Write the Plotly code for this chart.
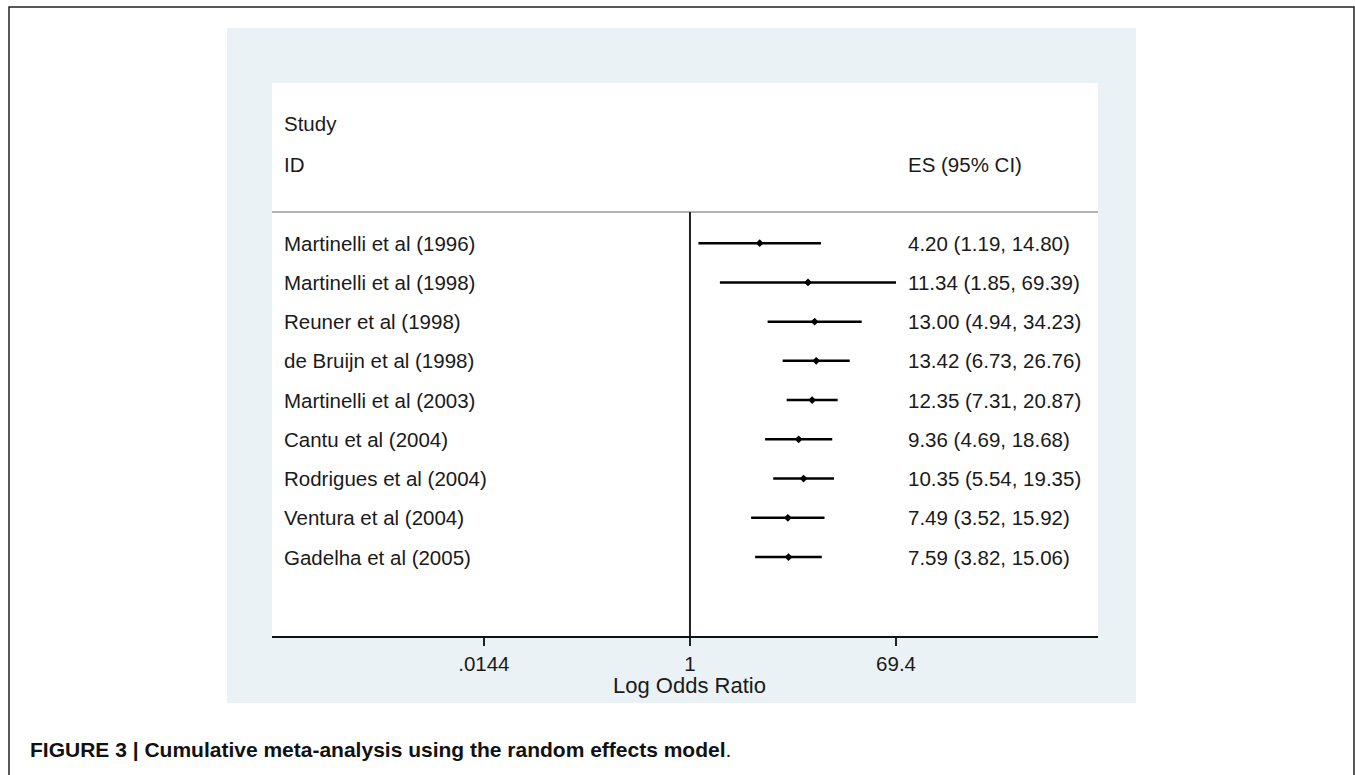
import plotly.graph_objects as go

W, H = 1355, 775

studies = ["Martinelli et al (1996)", "Martinelli et al (1998)", "Reuner et al (1998)",
           "de Bruijn et al (1998)", "Martinelli et al (2003)", "Cantu et al (2004)",
           "Rodrigues et al (2004)", "Ventura et al (2004)", "Gadelha et al (2005)"]
es = [4.20, 11.34, 13.00, 13.42, 12.35, 9.36, 10.35, 7.49, 7.59]
ci_low = [1.19, 1.85, 4.94, 6.73, 7.31, 4.69, 5.54, 3.52, 3.82]
ci_high = [14.80, 69.39, 34.23, 26.76, 20.87, 18.68, 19.35, 15.92, 15.06]

tick_vals = [0.0144, 1, 69.4]
tick_text = [".0144", "1", "69.4"]

FONT = "Liberation Sans, Arial, Helvetica, sans-serif"
TXT = "#1a1a1a"
FS = 20.5

def px(x):
    return x / W

def py(y):
    return (H - y) / H

rows = list(range(len(studies)))
es_labels = [f"{e:.2f} ({l:.2f}, {h:.2f})" for e, l, h in zip(es, ci_low, ci_high)]

fig = go.Figure()
fig.add_trace(go.Scatter(
    x=es, y=rows, mode="markers",
    marker=dict(symbol="diamond", size=6, color="#000000"),
    error_x=dict(type="data", symmetric=False,
                 array=[h - e for e, h in zip(es, ci_high)],
                 arrayminus=[e - l for e, l in zip(es, ci_low)],
                 width=0, thickness=2.5, color="#000000"),
    showlegend=False, hoverinfo="skip", cliponaxis=False,
))

y_top, y_bot = -4.08, 10.01
header_line_y = -0.79

shapes = [
    # outer border
    dict(type="rect", xref="paper", yref="paper", x0=px(9), x1=px(1354), y0=py(790), y1=py(7),
         line=dict(color="#222222", width=1.5), fillcolor="rgba(0,0,0,0)", layer="below"),
    # graph region (light blue)
    dict(type="rect", xref="paper", yref="paper", x0=px(227), x1=px(1136), y0=py(703), y1=py(28),
         line=dict(width=0), fillcolor="#EAF2F5", layer="below"),
    # plot region (white)
    dict(type="rect", xref="paper", yref="paper", x0=px(272), x1=px(1098), y0=py(636), y1=py(83),
         line=dict(width=0), fillcolor="#FFFFFF", layer="below"),
    # header separator
    dict(type="line", xref="paper", yref="y", x0=px(272), x1=px(1098), y0=header_line_y, y1=header_line_y,
         line=dict(color="#9a9a9a", width=1.5)),
    # null line at OR = 1
    dict(type="line", xref="x", yref="y", x0=1, x1=1, y0=header_line_y, y1=y_bot,
         line=dict(color="#222222", width=2)),
]

annotations = []
for r, s, lab in zip(rows, studies, es_labels):
    annotations.append(dict(x=px(282), y=r, xref="paper", yref="y", text=s, showarrow=False,
                            xanchor="left", yanchor="middle", font=dict(size=FS, color=TXT, family=FONT)))
    annotations.append(dict(x=px(906), y=r, xref="paper", yref="y", text=lab, showarrow=False,
                            xanchor="left", yanchor="middle", font=dict(size=FS, color=TXT, family=FONT)))

annotations += [
    dict(x=px(282), y=-3.06, xref="paper", yref="y", text="Study", showarrow=False,
         xanchor="left", yanchor="middle", font=dict(size=FS, color=TXT, family=FONT)),
    dict(x=px(282), y=-2.01, xref="paper", yref="y", text="ID", showarrow=False,
         xanchor="left", yanchor="middle", font=dict(size=FS, color=TXT, family=FONT)),
    dict(x=px(906), y=-2.01, xref="paper", yref="y", text="ES (95% CI)", showarrow=False,
         xanchor="left", yanchor="middle", font=dict(size=FS, color=TXT, family=FONT)),
    # axis title centred on OR = 1 (annotation x on log axis is log10 value)
    dict(x=0, y=py(685), xref="x", yref="paper", text="Log Odds Ratio", showarrow=False,
         xanchor="center", yanchor="middle", font=dict(size=22, color=TXT, family=FONT)),
    dict(x=px(28), y=py(749), xref="paper", yref="paper",
         text="<b>FIGURE 3 | Cumulative meta-analysis using the random effects model</b>.",
         showarrow=False, xanchor="left", yanchor="middle",
         font=dict(size=21, color="#111111", family=FONT)),
]

fig.update_layout(
    width=W, height=H,
    margin=dict(l=0, r=0, t=0, b=0),
    paper_bgcolor="#FFFFFF",
    plot_bgcolor="rgba(0,0,0,0)",
    shapes=shapes,
    annotations=annotations,
    xaxis=dict(
        type="log", domain=[px(272), px(1098)], range=[-3.735, 3.646],
        tickvals=tick_vals, ticktext=tick_text,
        ticks="outside", ticklen=8, tickwidth=1.5, tickcolor="#222222",
        showline=True, linecolor="#111111", linewidth=2,
        showgrid=False, zeroline=False,
        tickfont=dict(size=FS, color=TXT, family=FONT),
        fixedrange=True,
    ),
    yaxis=dict(
        domain=[py(636), py(83)], range=[y_bot, y_top],
        showticklabels=False, ticks="", showgrid=False, zeroline=False, showline=False,
        fixedrange=True,
    ),
)

fig.write_html("out.html", config={"displayModeBar": False},
               post_script="document.body.style.margin='0';document.body.style.overflow='hidden';")
